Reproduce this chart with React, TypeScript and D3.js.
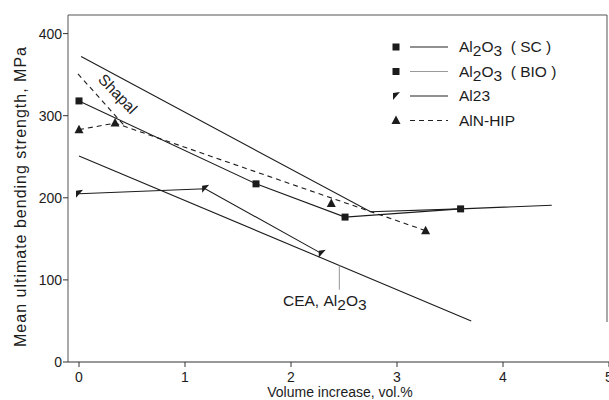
import React from 'react';
import * as d3 from 'd3';

type Pt = [number, number];

const xTicks = [0, 1, 2, 3, 4, 5];
const yTicks = [0, 100, 200, 300, 400];

// Al2O3 (SC) – upper trend line, meets the square at 3.6 vol.%
const scLine: Pt[] = [[0.02, 372], [2.75, 183], [3.6, 186.5], [4.46, 191]];
const scMarks: Pt[] = [[3.6, 186.5]];
// Al2O3 (BIO)
const bioLine: Pt[] = [[0, 318], [1.67, 217], [2.51, 176.5], [3.6, 186.5]];
const bioMarks: Pt[] = [[0, 318], [1.67, 217], [2.51, 176.5]];
// Al23
const al23: Pt[] = [[0, 205], [1.19, 211], [2.29, 132]];
// AlN-HIP
const alnMarks: Pt[] = [[0, 283], [0.34, 291], [2.38, 193], [3.27, 160]];
const alnLine: Pt[] = [[0, 283], [0.34, 291], [3.27, 160]];
// Shapal and CEA trend lines
const shapalLine: Pt[] = [[-0.01, 351], [0.42, 289]];
const ceaLine: Pt[] = [[0, 251], [3.7, 50]];
const ceaLeader: Pt[] = [[2.456, 118], [2.456, 88]];

const legendRows = [
  { name: 'SC', marker: 'square', dash: '', stroke: '#222' },
  { name: 'BIO', marker: 'square', dash: '', stroke: '#999' },
  { name: 'Al23', marker: 'flag', dash: '', stroke: '#222' },
  { name: 'AlN-HIP', marker: 'triangle', dash: '5,4', stroke: '#222' },
];

const W = 609;
const H = 400;
const font = '"Liberation Sans", Arial, sans-serif';
const ink = '#1c1c1c';

const x = d3.scaleLinear().domain([0, 5]).range([79, 609]);
const y = d3.scaleLinear().domain([0, 400]).range([362, 33.6]);
const line = d3.line<Pt>().x(d => x(d[0])).y(d => y(d[1]));

const frame = { left: 68, top: 15, right: 607, bottom: 362 };

const Marker = ({ kind, cx, cy }: { kind: string; cx: number; cy: number }) => {
  if (kind === 'square') {
    return <rect x={cx - 3.5} y={cy - 3.5} width={7} height={7} fill={ink} />;
  }
  if (kind === 'triangle') {
    return <path d={`M${cx},${cy - 5}L${cx + 4.5},${cy + 3.5}L${cx - 4.5},${cy + 3.5}Z`} fill={ink} />;
  }
  // Al23 flag-like mark
  return <path d={`M${cx - 3},${cy - 3}L${cx + 4},${cy - 4}L${cx - 3},${cy + 4}Z`} fill={ink} />;
};

// "Al2O3" with subscripts, followed by an optional tail
const Alumina = ({ tail }: { tail?: string }) => (
  <>
    <tspan>Al</tspan>
    <tspan dy={4}>2</tspan>
    <tspan dy={-4}>O</tspan>
    <tspan dy={4}>3</tspan>
    {tail ? <tspan dy={-4}>{tail}</tspan> : null}
  </>
);

const legendLabel = (name: string) => {
  if (name === 'SC') return <Alumina tail={'\u00a0 ( SC )'} />;
  if (name === 'BIO') return <Alumina tail={'\u00a0 ( BIO )'} />;
  return name;
};

export default function App() {
  return (
    <svg
      width={W}
      height={H}
      style={{ position: 'absolute', left: 0, top: 0, background: '#fff', fontFamily: font }}
    >
      {/* frame */}
      <path
        d={`M${frame.left},${frame.bottom}V${frame.top}H${frame.right}V${frame.bottom - 40}`}
        fill="none"
        stroke="#555"
        strokeWidth={1}
      />
      <line x1={frame.left} x2={W} y1={frame.bottom} y2={frame.bottom} stroke="#333" strokeWidth={1.2} />

      {/* y axis */}
      {yTicks.map(t => (
        <g key={t}>
          <line x1={frame.left - 5} x2={frame.left} y1={y(t)} y2={y(t)} stroke="#333" />
          <text x={frame.left - 6} y={y(t)} dy="0.35em" textAnchor="end" fontSize={14} fill={ink}>
            {t}
          </text>
        </g>
      ))}
      {/* x axis */}
      {xTicks.map(t => (
        <g key={t}>
          <line x1={x(t)} x2={x(t)} y1={frame.bottom} y2={frame.bottom + 5} stroke="#333" />
          <text x={x(t)} y={382} textAnchor="middle" fontSize={14} fill={ink}>
            {t}
          </text>
        </g>
      ))}
      <text x={340} y={397} textAnchor="middle" fontSize={14} fill={ink}>
        Volume increase, vol.%
      </text>
      <text
        transform="translate(26,197) rotate(-90)"
        textAnchor="middle"
        fontSize={16}
        textLength={300}
        lengthAdjust="spacing"
        fill={ink}
      >
        Mean ultimate bending strength, MPa
      </text>

      {/* trend lines */}
      <path d={line(scLine) ?? ''} fill="none" stroke={ink} strokeWidth={1.1} />
      <path d={line(bioLine) ?? ''} fill="none" stroke={ink} strokeWidth={1.1} />
      <path d={line(al23) ?? ''} fill="none" stroke={ink} strokeWidth={1.1} />
      <path d={line(ceaLine) ?? ''} fill="none" stroke={ink} strokeWidth={1.1} />
      <path d={line(ceaLeader) ?? ''} fill="none" stroke="#777" strokeWidth={0.8} />
      <path d={line(alnLine) ?? ''} fill="none" stroke={ink} strokeWidth={1.1} strokeDasharray="5,4" />
      <path d={line(shapalLine) ?? ''} fill="none" stroke={ink} strokeWidth={1.1} strokeDasharray="5,4" />

      {/* markers */}
      {scMarks.concat(bioMarks).map((d, i) => (
        <Marker key={'s' + i} kind="square" cx={x(d[0])} cy={y(d[1])} />
      ))}
      {al23.map((d, i) => (
        <Marker key={'f' + i} kind="flag" cx={x(d[0])} cy={y(d[1])} />
      ))}
      {alnMarks.map((d, i) => (
        <Marker key={'t' + i} kind="triangle" cx={x(d[0])} cy={y(d[1])} />
      ))}

      {/* annotations */}
      <text
        transform={`translate(${x(0.33)},${y(322)}) rotate(46)`}
        textAnchor="middle"
        fontSize={15.5}
        fill={ink}
      >
        Shapal
      </text>
      <text x={283} y={306} fontSize={15.5} fill={ink}>
        <tspan>CEA,&nbsp;</tspan>
        <Alumina />
      </text>

      {/* legend */}
      {legendRows.map((r, i) => {
        const cy = 47 + i * 24.5;
        return (
          <g key={r.name}>
            <Marker kind={r.marker} cx={396} cy={cy} />
            <line
              x1={410}
              x2={448}
              y1={cy}
              y2={cy}
              stroke={r.stroke}
              strokeWidth={1.1}
              strokeDasharray={r.dash || undefined}
            />
            <text x={459} y={cy} dy="0.35em" fontSize={15.5} fill={ink}>
              {legendLabel(r.name)}
            </text>
          </g>
        );
      })}
    </svg>
  );
}
